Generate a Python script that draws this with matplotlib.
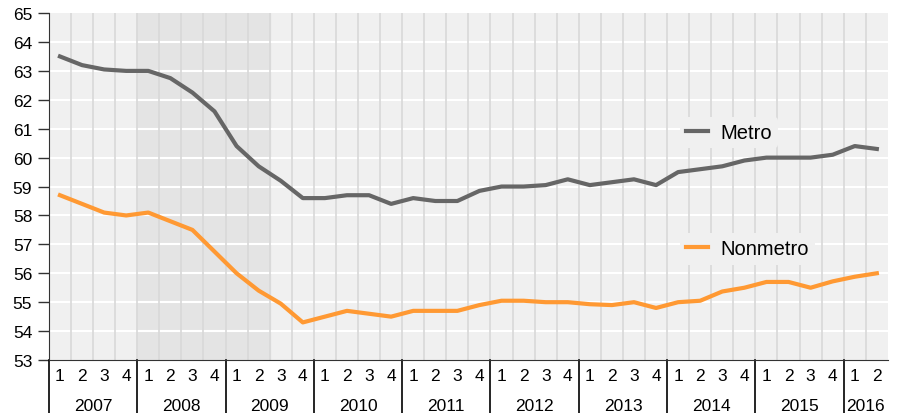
import numpy as np
import matplotlib
matplotlib.use("Agg")
import matplotlib.pyplot as plt

plt.rcParams['font.family'] = ['Liberation Sans', 'DejaVu Sans']

years = ['2007', '2008', '2009', '2010', '2011', '2012', '2013', '2014', '2015', '2016']
quarters_per_year = [4, 4, 4, 4, 4, 4, 4, 4, 4, 2]

metro = [63.5, 63.2, 63.05, 63.0,
         63.0, 62.75, 62.25, 61.6,
         60.4, 59.7, 59.2, 58.6,
         58.6, 58.7, 58.7, 58.4,
         58.6, 58.5, 58.5, 58.85,
         59.0, 59.0, 59.05, 59.25,
         59.05, 59.15, 59.25, 59.05,
         59.5, 59.6, 59.7, 59.9,
         60.0, 60.0, 60.0, 60.1,
         60.4, 60.3]

nonmetro = [58.7, 58.4, 58.1, 58.0,
            58.1, 57.8, 57.5, 56.75,
            56.0, 55.4, 54.95, 54.3,
            54.5, 54.7, 54.6, 54.5,
            54.7, 54.7, 54.7, 54.9,
            55.05, 55.05, 55.0, 55.0,
            54.93, 54.9, 55.0, 54.8,
            55.0, 55.05, 55.37, 55.5,
            55.7, 55.7, 55.5, 55.72,
            55.88, 56.0]

x = np.arange(len(metro))
n = len(metro)

fig = plt.figure(figsize=(9.06, 4.14), dpi=100)
ax = fig.add_axes([0.054, 0.128, 0.926, 0.838])
ax.set_facecolor('#f0f0f0')

# recession shading 2008Q1 - 2009Q2
ax.axvspan(3.5, 9.5, color='#e4e4e4', zorder=0)

for v in range(54, 65):
    ax.axhline(v, color='white', lw=1.5, zorder=1)
for b in np.arange(0.5, n - 0.5, 1):
    ax.axvline(b, color='#d8d8d8', lw=1.2, zorder=1)

l1, = ax.plot(x, metro, color='#666666', lw=3, zorder=3, solid_joinstyle='round')
l2, = ax.plot(x, nonmetro, color='#ff9933', lw=3, zorder=3, solid_joinstyle='round')

ax.set_xlim(-0.5, n - 0.5)
ax.set_ylim(53, 65)
ax.set_yticks(range(53, 66))
ax.tick_params(axis='y', length=8, width=1, color='#333333', pad=4, labelsize=12.5)
ax.set_xticks([])
for s in ['top', 'right']:
    ax.spines[s].set_visible(False)
ax.spines['left'].set_color('#333333')
ax.spines['bottom'].set_color('#333333')

# two-level x labels
trans = ax.get_xaxis_transform()
start = 0
for yr, q in zip(years, quarters_per_year):
    for k in range(q):
        ax.text(start + k, -0.045, str(k + 1), transform=trans,
                ha='center', va='center', fontsize=12.5)
    ax.text(start + (q - 1) / 2, -0.13, yr, transform=trans,
            ha='center', va='center', fontsize=12.5)
    ax.plot([start - 0.5, start - 0.5], [0, -0.16], transform=trans,
            color='black', lw=1.2, clip_on=False)
    start += q

leg1 = ax.legend([l1], ['Metro'], loc='center left', bbox_to_anchor=(0.752, 0.655),
                 frameon=True, facecolor='#f0f0f0', edgecolor='none', framealpha=1,
                 fontsize=14.5, handlelength=1.1, handletextpad=0.6, borderaxespad=0,
                 borderpad=0.3)
ax.add_artist(leg1)
ax.legend([l2], ['Nonmetro'], loc='center left', bbox_to_anchor=(0.752, 0.320),
          frameon=True, facecolor='#f0f0f0', edgecolor='none', framealpha=1,
          fontsize=14.5, handlelength=1.1, handletextpad=0.6, borderaxespad=0,
          borderpad=0.3)

fig.savefig('out.png', dpi=100)
